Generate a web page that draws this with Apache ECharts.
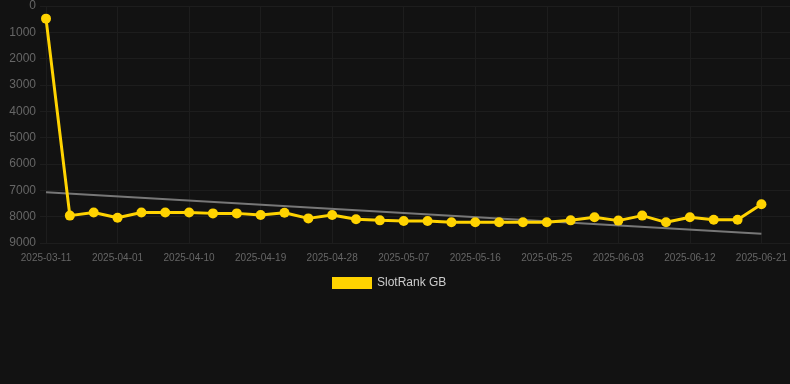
<!DOCTYPE html>
<html><head><meta charset="utf-8">
<script src="https://cdn.jsdelivr.net/npm/echarts@6/dist/echarts.min.js"></script>
<style>html,body{margin:0;padding:0;background:#121212;}#c{width:790px;height:384px;}</style>
</head><body><div id="c"></div>
<script>
const categories = ['2025-03-11','2025-03-26','2025-03-29','2025-04-01','2025-04-04','2025-04-07','2025-04-10','2025-04-13','2025-04-16','2025-04-19','2025-04-22','2025-04-25','2025-04-28','2025-05-01','2025-05-04','2025-05-07','2025-05-10','2025-05-13','2025-05-16','2025-05-19','2025-05-22','2025-05-25','2025-05-28','2025-05-31','2025-06-03','2025-06-06','2025-06-09','2025-06-12','2025-06-15','2025-06-18','2025-06-21'];
const rankGB = [480,7960,7840,8040,7840,7840,7840,7875,7875,7940,7850,8065,7940,8100,8140,8165,8165,8215,8215,8215,8215,8215,8140,8025,8150,7960,8215,8025,8115,8115,7530];
const trendStart = 7075, trendEnd = 8645;
const yTicks = [0,1000,2000,3000,4000,5000,6000,7000,8000,9000];

const trendData = categories.map((c,i)=> i===0 ? trendStart : (i===categories.length-1 ? trendEnd : null));
const font = 'Liberation Sans, Arial, sans-serif';
const gridColor = '#1d1d1d';

const chart = echarts.init(document.getElementById('c'), null, {renderer:'canvas'});
chart.setOption({
  backgroundColor:'#121212',
  animation:false,
  grid:[
    {left:40,right:0,top:6,bottom:141},
    {left:46,right:28,top:6,bottom:141}
  ],
  legend:{
    data:['SlotRank GB'], top:277, left:332, padding:0,
    itemWidth:40, itemHeight:12, icon:'rect',
    textStyle:{color:'#cccccc',fontSize:12,fontFamily:font}
  },
  xAxis:[
    {gridIndex:0,type:'category',data:categories,show:false},
    {gridIndex:1,type:'category', data:categories, boundaryGap:false,
     axisLine:{show:false}, axisTick:{show:false},
     axisLabel:{interval:2,color:'#666',fontSize:10,fontFamily:font,margin:10},
     splitLine:{show:true,interval:2,lineStyle:{color:gridColor}}}
  ],
  yAxis:[
    {gridIndex:0,type:'value', inverse:true, min:yTicks[0], max:yTicks[yTicks.length-1], interval:1000,
     axisLine:{show:false}, axisTick:{show:false},
     axisLabel:{color:'#666',fontSize:12,fontFamily:font,margin:4,formatter:v=>String(v)},
     splitLine:{lineStyle:{color:gridColor}}},
    {gridIndex:1,type:'value', inverse:true, min:yTicks[0], max:yTicks[yTicks.length-1], interval:1000,
     show:false, splitLine:{show:false}}
  ],
  series:[
    {name:'Trend',type:'line',xAxisIndex:1,yAxisIndex:1,data:trendData,connectNulls:true,symbol:'none',
     lineStyle:{color:'#777',width:2},z:1,silent:true},
    {name:'SlotRank GB',type:'line',xAxisIndex:1,yAxisIndex:1,data:rankGB,symbol:'circle',symbolSize:10,
     itemStyle:{color:'#FFD300'},lineStyle:{color:'#FFD300',width:3},z:2}
  ]
});
</script></body></html>
